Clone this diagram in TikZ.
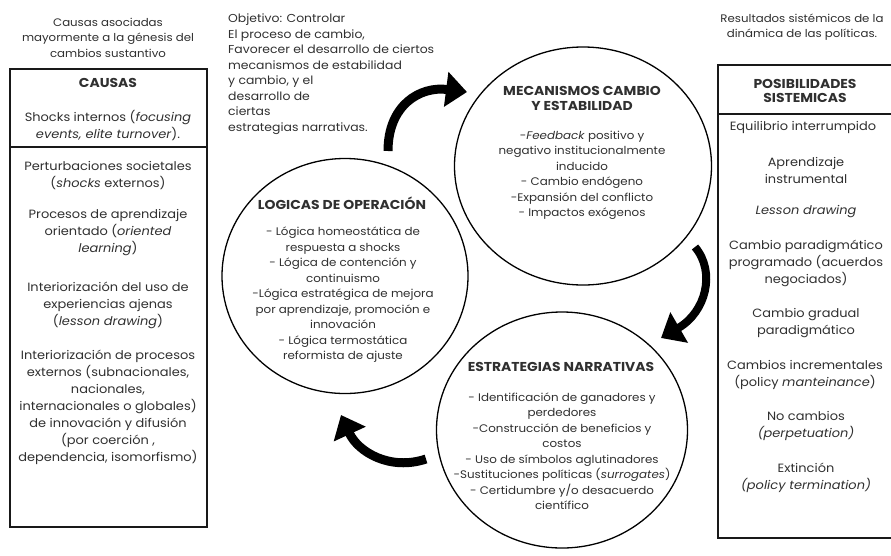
\documentclass[tikz,border=0pt]{standalone}
\usepackage{fontspec}
\setmainfont{Poppins}[FakeStretch=1.08]
\usetikzlibrary{arrows.meta,shapes.geometric}
\definecolor{txt}{HTML}{303030}
\begin{document}
\begin{tikzpicture}[x=1pt,y=-1pt,
  every node/.style={text=txt, inner sep=0pt},
  hdr/.style={align=center, font=\fontsize{10.9}{15.5}\selectfont},
  boxtxt/.style={align=center, font=\fontsize{12}{17}\selectfont},
  circtxt/.style={align=center, font=\fontsize{11}{15.5}\selectfont},
  ttl/.style={align=center, font=\fontsize{12.9}{14.5}\selectfont\bfseries},
  frame/.style={draw=black!90, line width=2.4pt},
  sep/.style={draw=black!90, line width=1.2pt},
  circ/.style={ellipse, draw=black, line width=1.3pt},
  bigarrow/.style={draw=black, line width=9pt, -{Triangle[length=21pt,width=34pt]}}
]
\useasboundingbox (0,0) rectangle (891,555);
\fill[white] (0,0) rectangle (891,555);

% ---------- left column ----------
\node[hdr] (lhdr) at (108,37.5) {Causas asociadas\\mayormente a la génesis del\\cambios sustantivo};
\draw[frame] (10,69) rectangle (207,527);
\node[ttl] (causas) at (108,83) {CAUSAS};
\node[boxtxt] (c1) at (108,125.5) {Shocks internos (\textit{focusing}\\\textit{events, elite turnover}).};
\draw[sep] (10,147) -- (207,147);
\node[boxtxt] (c2) at (108,176) {Perturbaciones societales\\(\textit{shocks} externos)};
\node[boxtxt] (c3) at (108,233) {Procesos de aprendizaje\\orientado (\textit{oriented}\\\textit{learning})};
\node[boxtxt] (c4) at (108,305) {Interiorización del uso de\\experiencias ajenas\\(\textit{lesson drawing})};
\node[boxtxt] (c5) at (108,407) {Interiorización de procesos\\externos (subnacionales,\\nacionales,\\internacionales o globales)\\de innovación y difusión\\(por coerción ,\\dependencia, isomorfismo)};

% ---------- right column ----------
\node[hdr] (rhdr) at (802,27) {Resultados sistémicos de la\\dinámica de las políticas.};
\draw[frame] (718,65) rectangle (898,538);
\node[ttl] (posib) at (805,91) {POSIBILIDADES\\SISTEMICAS};
\draw[sep] (718,114) -- (898,114);
\node[boxtxt] (r1) at (803,127) {Equilibrio interrumpido};
\node[boxtxt] (r2) at (806,170) {Aprendizaje\\instrumental};
\node[boxtxt] (r3) at (806,212) {\textit{Lesson drawing}};
\node[boxtxt] (r4) at (806,263) {Cambio paradigmático\\programado (acuerdos\\negociados)};
\node[boxtxt] (r5) at (806,323) {Cambio gradual\\paradigmático};
\node[boxtxt] (r6) at (805,375) {Cambios incrementales\\(policy \textit{manteinance})};
\node[boxtxt] (r7) at (806,426) {No cambios\\\textit{(perpetuation)}};
\node[boxtxt] (r8) at (806,478) {Extinción\\\textit{(policy termination)}};

% ---------- objective text ----------
\node[anchor=west, align=left, font=\fontsize{11.5}{15.5}\selectfont] (obj) at (228,74)
 {Objetivo: Controlar\\El proceso de cambio,\\Favorecer el desarrollo de ciertos\\mecanismos de estabilidad\\y cambio, y el\\desarrollo de\\ciertas\\estrategias narrativas.};

% ---------- circles ----------
\node[circ, minimum width=246pt, minimum height=235pt] (log) at (345,276) {};
\node[circ, minimum width=257pt, minimum height=238pt] (mec) at (583,166) {};
\node[circ, minimum width=251pt, minimum height=236pt] (est) at (562,430) {};

\node[ttl] (mect) at (582,98.5) {MECANISMOS CAMBIO\\Y ESTABILIDAD};
\node[circtxt] (mecb) at (582,175.5) {-\textit{Feedback} positivo y\\negativo institucionalmente\\inducido\\- Cambio endógeno\\-Expansión del conflicto\\- Impactos exógenos};

\node[ttl] (logt) at (342,203) {LOGICAS DE OPERACIÓN};
\node[circtxt] (logb) at (343,295) {- Lógica homeostática de\\respuesta a shocks\\- Lógica de contención y\\continuismo\\-Lógica estratégica de mejora\\por aprendizaje, promoción e\\innovación\\- Lógica termostática\\reformista de ajuste};

\node[ttl] (estt) at (561,367) {ESTRATEGIAS NARRATIVAS};
\node[circtxt] (estb) at (562,451) {- Identificación de ganadores y\\perdedores\\-Construcción de beneficios y\\costos\\- Uso de símbolos aglutinadores\\-Sustituciones políticas (\textit{surrogates})\\- Certidumbre y/o desacuerdo\\científico};

% ---------- arrows ----------
\coordinate (a1s) at (388,151);
\coordinate (a1e) at (467,92);
\coordinate (a2s) at (695,247);
\coordinate (a2e) at (661,338);
\coordinate (a3s) at (426,459);
\coordinate (a3e) at (341,415);
\draw[bigarrow] (a1s) .. controls (388,105) and (420,86) .. (a1e);
\draw[bigarrow, line width=8pt] (a2s) .. controls (716,272) and (706,312) .. (a2e);
\draw[bigarrow] (a3s) .. controls (390,471) and (358,452) .. (a3e);
\end{tikzpicture}
\end{document}
